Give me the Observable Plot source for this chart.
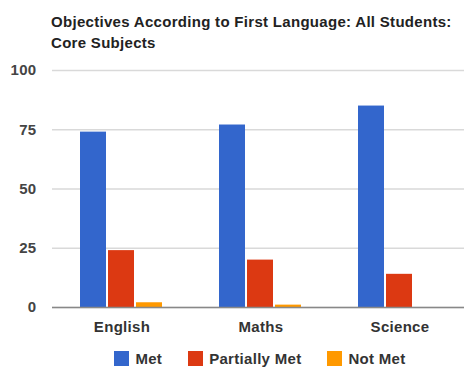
<!DOCTYPE html>
<html>
<head>
<meta charset="utf-8">
<script src="https://cdn.jsdelivr.net/npm/d3@7"></script>
<script src="https://cdn.jsdelivr.net/npm/@observablehq/plot@0.6"></script>
<style>
  html, body { margin: 0; padding: 0; background: #fff; overflow: hidden; }
  body { width: 464px; height: 367px; font-family: "Liberation Sans", Arial, sans-serif; }
  #title { padding-left: 51px; padding-top: 11px; font-size: 15px; letter-spacing: 0.3px; font-weight: bold; color: #222; line-height: 21px; height: 44px; white-space: nowrap; }
  #chart svg { max-width: none !important; display: block; }
  #legend { display: flex; justify-content: center; margin-left: 51px; width: 418px; margin-top: 10px; font-size: 15px; letter-spacing: 0.3px; font-weight: bold; color: #333; }
  .item { display: flex; align-items: center; margin: 0 13px; }
  .sw { width: 15px; height: 15px; margin-right: 6px; }
</style>
</head>
<body>
<div id="title">Objectives According to First Language: All Students:<br>Core Subjects</div>
<div id="chart"></div>
<div id="legend"></div>
<script>
// Subjects, outcome series and their percentages
const subjects = ["English", "Maths", "Science"];
const outcomes = ["Met", "Partially Met", "Not Met"];
const met = [74, 77, 85];
const partiallyMet = [24, 20, 14];
const notMet = [2, 1, 0];
const yTicks = [0, 25, 50, 75, 100];
const colors = ["#3366cc", "#dc3912", "#ff9900"];

const series = [met, partiallyMet, notMet];
const rows = subjects.flatMap((s, i) =>
  outcomes.map((o, j) => ({subject: s, outcome: o, value: series[j][i]}))
);

const chart = Plot.plot({
  width: 470,
  height: 285,
  marginTop: 15,
  marginBottom: 33,
  marginLeft: 51,
  marginRight: 0,
  style: {fontFamily: "'Liberation Sans', Arial, sans-serif", fontSize: "15px", fontWeight: "bold", letterSpacing: "0.3px", color: "#333", background: "#fff"},
  fx: {domain: subjects, paddingInner: 0, paddingOuter: 0, label: null},
  x: {domain: outcomes, paddingInner: 0.054, paddingOuter: 1.0, axis: null},
  y: {domain: [0, 100], label: null},
  color: {domain: outcomes, range: colors},
  marks: [
    Plot.gridY(yTicks, {stroke: "#d9d9d9", strokeOpacity: 1, strokeWidth: 1.5}),
    Plot.barY(rows, {fx: "subject", x: "outcome", y: "value", fill: "outcome"}),
    Plot.ruleY([0], {stroke: "#888", strokeWidth: 1.5}),
    Plot.axisY(yTicks, {tickSize: 0, tickPadding: 16, fill: "#444", label: null}),
    Plot.axisFx({anchor: "bottom", tickSize: 0, tickPadding: 14, fill: "#333", label: null})
  ]
});
document.getElementById("chart").appendChild(chart);

const legend = document.getElementById("legend");
outcomes.forEach((o, i) => {
  const item = document.createElement("div");
  item.className = "item";
  const sw = document.createElement("div");
  sw.className = "sw";
  sw.style.background = colors[i];
  const label = document.createElement("span");
  label.textContent = o;
  item.appendChild(sw);
  item.appendChild(label);
  legend.appendChild(item);
});
</script>
</body>
</html>
